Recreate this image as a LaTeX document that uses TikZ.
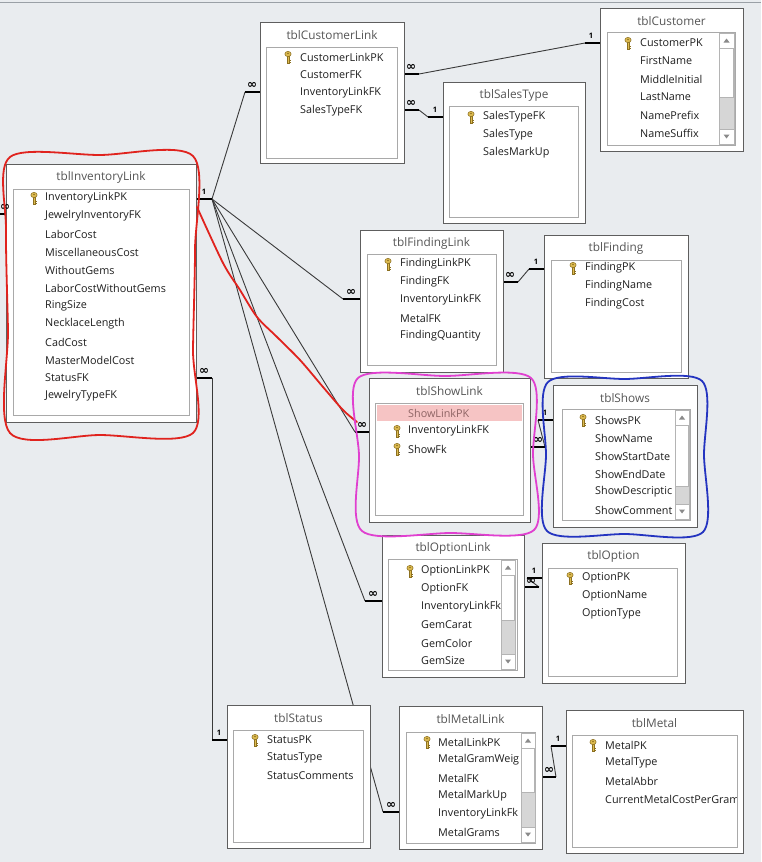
\documentclass[tikz,border=0pt]{standalone}
\usepackage{fontspec}
\setmainfont{Open Sans}
\newfontfamily\symfont{DejaVu Sans}
\definecolor{bgc}{HTML}{E9ECEF}
\definecolor{topline}{HTML}{9AA0A6}
\definecolor{boxborder}{HTML}{5E5E5E}
\definecolor{innerborder}{HTML}{A9A9A9}
\definecolor{titlegray}{HTML}{555555}
\definecolor{fieldblack}{HTML}{1E1E1E}
\definecolor{relgray}{HTML}{3A3A3A}
\definecolor{keygold}{HTML}{DDBB50}
\definecolor{keydark}{HTML}{8C7020}
\definecolor{hilite}{HTML}{F6C4C4}
\definecolor{hitext}{HTML}{8E6464}
\definecolor{sbborder}{HTML}{B4B4B4}
\definecolor{sbtrack}{HTML}{D6D6D6}
\definecolor{arrowc}{HTML}{8A8A8A}
\definecolor{redpen}{HTML}{E0231E}
\definecolor{magpen}{HTML}{E040D0}
\definecolor{bluepen}{HTML}{2434C0}
\tikzset{
  tbox/.style={draw=boxborder, fill=white, line width=1pt, inner sep=0pt, anchor=north west},
  ibox/.style={draw=innerborder, fill=white, line width=0.9pt, inner sep=0pt, anchor=north west},
  ttl/.style={text=titlegray, inner sep=0pt, font=\fontsize{11.8}{13}\selectfont},
  fld/.style={anchor=west, inner sep=0pt, text=fieldblack, font=\fontsize{10.8}{13}\selectfont},
  rel/.style={draw=relgray, line width=0.9pt},
  barline/.style={draw=black, line width=2.6pt},
  cardone/.style={inner sep=0pt, font=\fontsize{7.5}{8}\selectfont\bfseries},
  cardmany/.style={inner sep=0pt, font=\symfont\fontsize{12}{12}\selectfont\bfseries},
  sbar/.style={draw=sbborder, fill=white, line width=0.8pt, inner sep=0pt, anchor=north west},
  sbtn/.style={draw=sbborder, fill=white, line width=0.8pt},
  pen/.style={line width=1.8pt, line join=round, line cap=round},
}
\newcommand\tablebox[6]{%
  \node[tbox, minimum width={#4-#2}, minimum height={#5-#3}] (#1) at (#2,#3) {};
  \node[ttl] (#1-t) at ({(#2+#4)/2}, #3+13) {#6};}
\newcommand\innerbox[5]{%
  \node[ibox, minimum width={#4-#2}, minimum height={#5-#3}] (#1-i) at (#2,#3) {};}
\newcommand\fieldlist[4]{%
  \foreach \f [count=\i from 0] in {#4} {\node[fld] (#1-f\i) at (#2, {#3+18*\i}) {\f};}}
\newcommand\keyicon[2]{%
  \begin{scope}[shift={(#1,#2)}]
    \filldraw[fill=keygold, draw=keydark, line width=0.5pt] (-1,-0.8) rectangle (1,5.8);
    \fill[keydark] (1,2.6) rectangle (2.6,3.5);
    \fill[keydark] (1,4.6) rectangle (2.6,5.5);
    \filldraw[fill=keygold, draw=keydark, line width=0.5pt] (0,-3) ellipse [x radius=3.1, y radius=2.6];
    \fill[keydark] (0,-3.5) circle [radius=0.9];
  \end{scope}}
\newcommand\scrollbar[6]{%
  \node[sbar, minimum width={#4-#2}, minimum height={#5-#3}] (#1) at (#2,#3) {};
  \fill[sbtrack] (#2+0.5,#6) rectangle (#4-0.5,#5-15);
  \draw[sbtn] (#2,#3) rectangle (#4,#3+15);
  \draw[sbtn] (#2,#5-15) rectangle (#4,#5);
  \draw[sbtn] (#2+0.5,#3+15) rectangle (#4-0.5,#6);
  \fill[arrowc] ({(#2+#4)/2-3},#3+9.5) -- ({(#2+#4)/2+3},#3+9.5) -- ({(#2+#4)/2},#3+5.5) -- cycle;
  \fill[arrowc] ({(#2+#4)/2-3},#5-9.5) -- ({(#2+#4)/2+3},#5-9.5) -- ({(#2+#4)/2},#5-5.5) -- cycle;}
\begin{document}
\begin{tikzpicture}[x=1pt, y=-1pt]
\useasboundingbox (0,0) rectangle (761,862);
\clip (0,0) rectangle (761,862);
\fill[bgc] (0,0) rectangle (761,862);
\draw[topline, line width=1pt] (0,2) -- (761,2);

% connector coordinates
\coordinate (iR) at (212,199);
\coordinate (iS) at (212,378);
\coordinate (iL) at (-10,214);
\coordinate (staL) at (212,740);
\coordinate (clL) at (245,92);
\coordinate (flL) at (343,299);
\coordinate (slL) at (355,432);
\coordinate (olL) at (365,601);
\coordinate (mlL) at (383,812);
\coordinate (clR1) at (419,74);
\coordinate (custL) at (585,43);
\coordinate (clR2) at (419,110);
\coordinate (stL) at (428,117);
\coordinate (flR) at (518,282);
\coordinate (finL) at (529,269);
\coordinate (slR) at (545,447);
\coordinate (shL) at (538,420);
\coordinate (olR) at (539,587);
\coordinate (optL) at (527,578);
\coordinate (mlR) at (556,777);
\coordinate (metL) at (551,746);

% thin relationship lines (behind tables)
\draw[rel] (iR) -- (clL);
\draw[rel] (iR) -- (flL);
\draw[rel] (iR) -- (slL);
\draw[rel] (iR) -- (olL);
\draw[rel] (iR) -- (mlL);
\draw[rel] (iS) -- (staL);
\draw[rel] (clR1) -- (custL);
\draw[rel] (clR2) -- (stL);
\draw[rel] (flR) -- (finL);
\draw[rel] (slR) -- (shL);
\draw[rel] (olR) -- (optL);
\draw[rel] (mlR) -- (metL);

% tblInventoryLink
\tablebox{inv}{6}{164}{196}{422}{tblInventoryLink}
\innerbox{inv}{13}{189}{189}{415}
\fieldlist{inv}{45}{198}{InventoryLinkPK,JewelryInventoryFK,LaborCost,MiscellaneousCost,WithoutGems,LaborCostWithoutGems,RingSize,NecklaceLength,CadCost,MasterModelCost,StatusFK,JewelryTypeFK}
\keyicon{34}{198}

% tblCustomerLink
\tablebox{cl}{260}{22}{404}{163}{tblCustomerLink}
\innerbox{cl}{266}{47}{397}{158}
\fieldlist{cl}{300}{57}{CustomerLinkPK,CustomerFK,InventoryLinkFK,SalesTypeFK}
\keyicon{288}{57}

% tblCustomer
\tablebox{cust}{600}{8}{743}{151}{tblCustomer}
\innerbox{cust}{607}{32}{735}{145}
\fieldlist{cust}{640}{43}{CustomerPK,FirstName,MiddleInitial,LastName,NamePrefix,NameSuffix}
\keyicon{628}{43}
\scrollbar{cust-sb}{719}{33}{734}{144}{97}

% tblSalesType
\tablebox{st}{443}{82}{585}{223}{tblSalesType}
\innerbox{st}{449}{106}{578}{217}
\fieldlist{st}{483}{117}{SalesTypeFK,SalesType,SalesMarkUp}
\keyicon{471}{117}

% tblFindingLink
\tablebox{fl}{360}{230}{503}{372}{tblFindingLink}
\innerbox{fl}{367}{254}{496}{365}
\fieldlist{fl}{400}{264}{FindingLinkPK,FindingFK,InventoryLinkFK,MetalFK,FindingQuantity}
\keyicon{388}{264}

% tblFinding
\tablebox{fin}{544}{235}{688}{378}{tblFinding}
\innerbox{fin}{551}{260}{681}{372}
\fieldlist{fin}{585}{268}{FindingPK,FindingName,FindingCost}
\keyicon{573}{268}

% tblShowLink
\tablebox{sl}{369}{378}{530}{522}{tblShowLink}
\innerbox{sl}{375}{403}{523}{515}
\fill[hilite] (377,405) rectangle (522,421);
\node[fld, text=hitext] (sl-f0) at (408,413) {ShowLinkPK};
\node[fld] (sl-f1) at (408,431) {InventoryLinkFK};
\node[fld] (sl-f2) at (408,449) {ShowFk};
\keyicon{397}{431}
\keyicon{397}{449}

% tblShows
\tablebox{sh}{553}{385}{697}{527}{tblShows}
\innerbox{sh}{562}{409}{690}{520}
\fieldlist{sh}{595}{420}{ShowsPK,ShowName,ShowStartDate,ShowEndDate,ShowDescriptic,ShowComment}
\keyicon{583}{420}
\scrollbar{sh-sb}{675}{410}{689}{519}{486}

% tblOptionLink
\tablebox{ol}{382}{535}{524}{677}{tblOptionLink}
\innerbox{ol}{388}{559}{517}{670}
\fieldlist{ol}{421}{571}{OptionLinkPK,OptionFK,InventoryLinkFk,GemCarat,GemColor,GemSize}
\keyicon{410}{571}
\scrollbar{ol-sb}{501}{560}{515}{669}{620}

% tblOption
\tablebox{opt}{542}{543}{685}{683}{tblOption}
\innerbox{opt}{548}{568}{677}{676}
\fieldlist{opt}{582}{578}{OptionPK,OptionName,OptionType}
\keyicon{570}{578}

% tblStatus
\tablebox{sta}{227}{705}{370}{848}{tblStatus}
\innerbox{sta}{233}{730}{363}{842}
\fieldlist{sta}{267}{740}{StatusPK,StatusType,StatusComments}
\keyicon{255}{740}

% tblMetalLink
\tablebox{ml}{399}{706}{542}{849}{tblMetalLink}
\innerbox{ml}{406}{732}{535}{843}
\fieldlist{ml}{438}{742}{MetalLinkPK,MetalGramWeig,MetalFK,MetalMarkUp,InventoryLinkFk,MetalGrams}
\keyicon{427}{742}
\scrollbar{ml-sb}{521}{733}{535}{842}{792}

% tblMetal
\tablebox{met}{566}{710}{743}{853}{tblMetal}
\innerbox{met}{572}{735}{737}{847}
\begin{scope}
  \clip (572,735) rectangle (736,847);
  \fieldlist{met}{605}{745}{MetalPK,MetalType,MetalAbbr,CurrentMetalCostPerGram}
\end{scope}
\keyicon{593}{745}

% thick cardinality bars
\draw[barline] (inv.east |- iR) -- (iR);
\draw[barline] (inv.east |- iS) -- (iS);
\draw[barline] (iL) -- (inv.west |- iL);
\draw[barline] (staL) -- (sta.west |- staL);
\draw[barline] (clL) -- (cl.west |- clL);
\draw[barline] (flL) -- (fl.west |- flL);
\draw[barline] (slL) -- (sl.west |- slL);
\draw[barline] (olL) -- (ol.west |- olL);
\draw[barline] (mlL) -- (ml.west |- mlL);
\draw[barline] (cl.east |- clR1) -- (clR1);
\draw[barline] (custL) -- (cust.west |- custL);
\draw[barline] (cl.east |- clR2) -- (clR2);
\draw[barline] (stL) -- (st.west |- stL);
\draw[barline] (fl.east |- flR) -- (flR);
\draw[barline] (finL) -- (fin.west |- finL);
\draw[barline] (sl.east |- slR) -- (slR);
\draw[barline] (shL) -- (sh.west |- shL);
\draw[barline] (ol.east |- olR) -- (olR);
\draw[barline] (optL) -- (opt.west |- optL);
\draw[barline] (ml.east |- mlR) -- (mlR);
\draw[barline] (metL) -- (met.west |- metL);

% cardinality labels
\node[cardone] (c1) at (204,192) {1};
\node[cardmany] (c2) at (204,371) {∞};
\node[cardmany] (c3) at (5,207) {∞};
\node[cardone] (c4) at (219,733) {1};
\node[cardmany] (c5) at (252,85) {∞};
\node[cardmany] (c6) at (351,292) {∞};
\node[cardmany] (c7) at (362,425) {∞};
\node[cardmany] (c8) at (373,594) {∞};
\node[cardmany] (c9) at (391,805) {∞};
\node[cardmany] (c10) at (411,67) {∞};
\node[cardone] (c11) at (591,36) {1};
\node[cardmany] (c12) at (411,103) {∞};
\node[cardone] (c13) at (435,110) {1};
\node[cardmany] (c14) at (510,275) {∞};
\node[cardone] (c15) at (536,262) {1};
\node[cardmany] (c16) at (538,440) {∞};
\node[cardone] (c17) at (545,413) {1};
\node[cardmany] (c18) at (531,581) {∞};
\node[cardone] (c19) at (534,571) {1};
\node[cardmany] (c20) at (549,770) {∞};
\node[cardone] (c21) at (558,739) {1};

% hand-drawn highlights
\draw[pen, redpen] plot[smooth cycle, tension=0.5] coordinates {(10,157) (100,155) (193,156) (195,250) (193,350) (193,433) (100,435) (10,433) (8,330) (6,230)};
\draw[pen, redpen] plot[smooth, tension=0.5] coordinates {(197,207) (223,263) (240,290) (257,317) (277,337) (300,360) (323,387) (343,410) (357,422)};
\draw[pen, magpen] plot[smooth cycle, tension=0.5] coordinates {(358,378) (445,376) (531,378) (533,455) (534,530) (450,533) (362,531) (359,455)};
\draw[pen, bluepen] plot[smooth cycle, tension=0.5] coordinates {(548,382) (625,379) (702,381) (704,455) (703,532) (625,534) (547,531) (546,455)};
\end{tikzpicture}
\end{document}
